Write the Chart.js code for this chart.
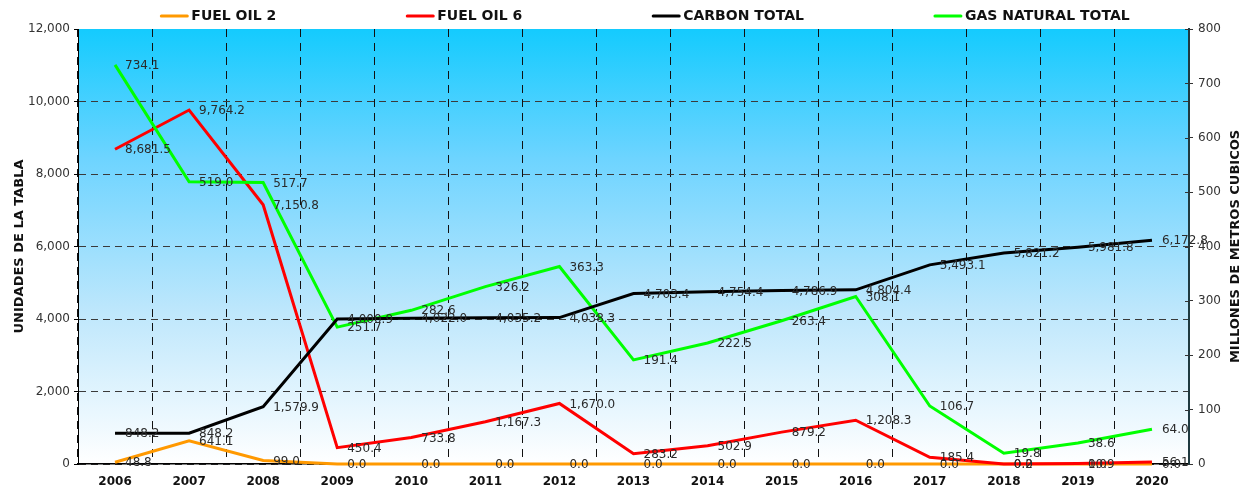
<!DOCTYPE html>
<html>
<head>
<meta charset="utf-8">
<script src="https://cdn.jsdelivr.net/npm/chart.js@4.4.0/dist/chart.umd.min.js"></script>
<style>
  html, body { margin: 0; padding: 0; background: #ffffff; }
  #wrap { width: 1244px; height: 489px; position: relative; }
</style>
</head>
<body>
<div id="wrap"><canvas id="c"></canvas></div>
<script>
const categories = ['2006','2007','2008','2009','2010','2011','2012','2013','2014','2015','2016','2017','2018','2019','2020'];
const fuelOil2 = [48.8, 641.1, 99.0, 0.0, 0.0, 0.0, 0.0, 0.0, 0.0, 0.0, 0.0, 0.0, 0.0, 0.0, 0.0];
const fuelOil6 = [8681.5, 9764.2, 7150.8, 450.4, 733.8, 1167.3, 1670.0, 283.2, 502.9, 879.2, 1208.3, 185.4, 0.2, 10.9, 56.1];
const carbonTotal = [848.2, 848.2, 1579.9, 4000.9, 4022.0, 4035.2, 4038.3, 4703.4, 4754.4, 4786.9, 4804.4, 5493.1, 5821.2, 5981.8, 6172.8];
const gasNaturalTotal = [734.1, 519.0, 517.7, 251.7, 282.6, 326.2, 363.3, 191.4, 222.5, 263.4, 308.1, 106.7, 19.8, 38.6, 64.0];
const seriesNames = ['FUEL OIL 2', 'FUEL OIL 6', 'CARBON TOTAL', 'GAS NATURAL TOTAL'];
const leftTitle = 'UNIDADES DE LA TABLA';
const rightTitle = 'MILLONES DE METROS CUBICOS';

const FONT = '"DejaVu Sans", Verdana, sans-serif';

const bgPlugin = {
  id: 'bg',
  beforeDraw(chart) {
    const {ctx, chartArea: a} = chart;
    ctx.save();
    ctx.fillStyle = '#ffffff';
    ctx.fillRect(0, 0, chart.width, chart.height);
    const g = ctx.createLinearGradient(0, a.top, 0, a.bottom);
    g.addColorStop(0, '#14CBFE');
    g.addColorStop(0.3, '#6ED4FF');
    g.addColorStop(0.65, '#BEE7FC');
    g.addColorStop(1, '#FFFFFF');
    ctx.fillStyle = g;
    ctx.fillRect(a.left, a.top, a.right - a.left, a.bottom - a.top);
    ctx.restore();
  }
};

function fmt(v) {
  return v.toLocaleString('en-US', {minimumFractionDigits: 1, maximumFractionDigits: 1});
}

const labelPlugin = {
  id: 'vlabels',
  afterDatasetsDraw(chart) {
    const {ctx} = chart;
    ctx.save();
    ctx.font = '12px ' + FONT;
    ctx.fillStyle = '#2a2a2a';
    ctx.textAlign = 'left';
    ctx.textBaseline = 'middle';
    chart.data.datasets.forEach((ds, i) => {
      const meta = chart.getDatasetMeta(i);
      meta.data.forEach((pt, j) => {
        ctx.fillText(fmt(ds.data[j]), pt.x + 10, pt.y + 1);
      });
    });
    ctx.restore();
  }
};

const decorPlugin = {
  id: 'decor',
  afterDraw(chart) {
    const {ctx, chartArea: a} = chart;
    ctx.save();
    // inner tick marks on the right axis
    const y1 = chart.scales.y1;
    ctx.strokeStyle = '#333333';
    ctx.lineWidth = 1;
    y1.ticks.forEach(t => {
      const py = Math.round(y1.getPixelForValue(t.value)) + 0.5;
      ctx.beginPath();
      ctx.moveTo(a.right - 4, py);
      ctx.lineTo(a.right, py);
      ctx.stroke();
    });
    // legend
    ctx.font = 'bold 14px ' + FONT;
    ctx.textBaseline = 'middle';
    ctx.textAlign = 'left';
    const lineLen = 28, textGap = 3, itemGap = 130;
    const items = chart.data.datasets.map(ds => ({text: ds.label, color: ds.borderColor, w: ctx.measureText(ds.label).width}));
    let total = 0;
    items.forEach((it, i) => { total += lineLen + textGap + it.w + (i < items.length - 1 ? itemGap : 0); });
    let x = 645 - total / 2;
    const ly = 16;
    items.forEach(it => {
      ctx.strokeStyle = it.color;
      ctx.lineWidth = 3;
      ctx.lineCap = 'round';
      ctx.beginPath();
      ctx.moveTo(x + 1, ly);
      ctx.lineTo(x + lineLen - 1, ly);
      ctx.stroke();
      ctx.fillStyle = '#111111';
      ctx.fillText(it.text, x + lineLen + textGap, ly);
      x += lineLen + textGap + it.w + itemGap;
    });
    // axis titles
    ctx.font = 'bold 13px ' + FONT;
    ctx.fillStyle = '#111111';
    ctx.textAlign = 'center';
    const cy = (a.top + a.bottom) / 2;
    ctx.save();
    ctx.translate(20, cy);
    ctx.rotate(-Math.PI / 2);
    ctx.fillText(leftTitle, 0, 0);
    ctx.restore();
    ctx.save();
    ctx.translate(1236, cy);
    ctx.rotate(-Math.PI / 2);
    ctx.fillText(rightTitle, 0, 0);
    ctx.restore();
    ctx.restore();
  }
};

const colors = ['#FF9900', '#FF0000', '#000000', '#00FF00'];
const dataArrays = [fuelOil2, fuelOil6, carbonTotal, gasNaturalTotal];
const axes = ['y', 'y', 'y', 'y1'];
const orders = [4, 3, 1, 2];

const datasets = dataArrays.map((d, i) => ({
  label: seriesNames[i],
  data: d,
  borderColor: colors[i],
  backgroundColor: colors[i],
  borderWidth: 3,
  pointRadius: 0,
  pointHoverRadius: 0,
  tension: 0,
  fill: false,
  yAxisID: axes[i],
  order: orders[i],
  clip: false
}));

new Chart(document.getElementById('c'), {
  type: 'line',
  data: { labels: categories, datasets },
  options: {
    responsive: true,
    maintainAspectRatio: false,
    animation: false,
    events: [],
    layout: { padding: { top: 29, left: 0, right: 0, bottom: 0 } },
    plugins: { legend: { display: false }, tooltip: { enabled: false } },
    scales: {
      x: {
        offset: true,
        grid: { offset: true, color: '#111111', lineWidth: 1, drawTicks: false },
        border: { display: true, color: '#000000', width: 1.5, dash: [8, 6] },
        ticks: { padding: 11, color: '#111111', font: { family: FONT, size: 12, weight: 'bold' }, maxRotation: 0, autoSkip: false },
        afterFit(s) { s.height = 25; }
      },
      y: {
        position: 'left',
        min: 0, max: 12000,
        ticks: { stepSize: 2000, padding: 4, color: '#333333', font: { family: FONT, size: 12 } },
        grid: {
          color: c => (c.tick && c.tick.value === 12000) ? 'rgba(0,0,0,0)' : '#3a3a3a',
          lineWidth: 1, tickLength: 4, tickColor: '#000000', tickBorderDash: []
        },
        border: { display: true, color: '#000000', width: 1, dash: [7, 5] },
        afterFit(s) { s.width = 78; }
      },
      y1: {
        position: 'right',
        min: 0, max: 800,
        ticks: { stepSize: 100, padding: 5, color: '#333333', font: { family: FONT, size: 12 } },
        grid: { drawOnChartArea: false, tickLength: 4, tickColor: '#333333' },
        border: { display: true, color: '#1f3a40', width: 2 },
        afterFit(s) { s.width = 55; }
      }
    }
  },
  plugins: [bgPlugin, labelPlugin, decorPlugin]
});
</script>
</body>
</html>
